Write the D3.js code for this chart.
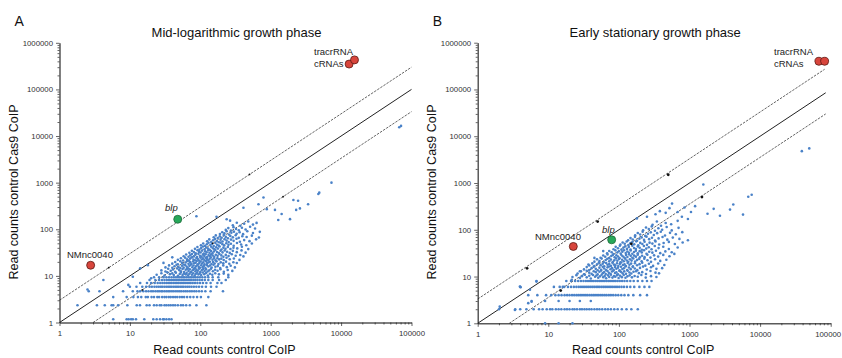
<!DOCTYPE html>
<html>
<head>
<meta charset="utf-8">
<script src="https://cdn.jsdelivr.net/npm/d3@7"></script>
<style>
  body { margin: 0; background: #fff; }
  svg { font-family: "Liberation Sans", Arial, sans-serif; }
</style>
</head>
<body>
<div id="chart"></div>
<script>
// ---- data ----
const xTicks = [1, 10, 100, 1000, 10000, 100000];
const yTicks = [1, 10, 100, 1000, 10000, 100000, 1000000];
const titles = ["Mid-logarithmic growth phase", "Early stationary growth phase"];
const letters = ["A", "B"];

// panel A, low counts sit on discrete levels: [y, [x...]]
const rowsA = [
  [1.17, [5.8, 9, 9.6, 10.4, 11, 12.2, 16, 21.5, 24, 26.8, 29.5, 30.5, 33, 36, 39]],
  [2.34, [1.8, 3.4, 4.4, 5.5, 5.8, 6.8, 9.2, 12.5, 13.9, 17.3, 19, 22, 24, 26.5, 28, 31, 33, 35.5, 38, 41, 44, 48, 53, 57, 63, 71, 88, 122]],
  [3.51, [5.8, 9, 11.2, 13, 14.5, 16.8, 18, 20.3, 22, 24.5, 26, 28.7, 31, 33, 35.7, 38, 41, 44, 47, 51, 55, 59, 65, 72, 80, 90, 102, 130]],
  [4.68, [2.6, 3.7, 8, 11, 12.8, 14, 15.5, 17, 18.4, 20, 21.3, 23, 24.6, 26, 27.8, 29, 31, 33, 35, 37, 39.5, 42, 45, 48, 51, 54, 58, 62, 66, 71, 76, 82, 88, 96, 105, 118, 140, 210]],
  [5.85, [10, 12.4, 15, 17, 19, 20.5, 22.3, 24, 25.7, 27.5, 29, 31, 33, 35, 37, 39, 41.5, 44, 46.5, 49, 52, 55, 58, 62, 66, 70, 75, 81, 88, 96, 106, 120, 142, 170]],
  [7.02, [14, 17.5, 20, 22.5, 24.8, 27, 29, 31, 33, 35, 37, 39, 41.5, 44, 46.5, 49, 52, 55, 58, 61, 65, 69, 73, 78, 84, 91, 99, 109, 122, 140, 175, 200]],
  [8.19, [4.2, 19, 23, 26, 28.5, 31, 33.5, 36, 38.5, 41, 43.5, 46, 48.5, 51, 54, 57, 60, 63, 67, 71, 75, 80, 85, 91, 98, 106, 116, 130, 150, 185, 230]],
  [9.36, [22, 26, 30, 33, 36, 39, 42, 45, 48, 51, 54, 57, 60, 64, 68, 72, 76, 81, 86, 92, 99, 107, 117, 130, 150, 180, 250]]
];

// panel A, main cloud above 10 reads: [x, y]
const cloudA = [
  [24,10.6],[28,11.4],[31,10.2],[34,11.9],[37,10.9],[40,11.3],[42,10.4],[45,11.7],[48,10.1],[51,11.0],[53,11.8],[56,10.5],[59,11.2],[62,10.8],[64,11.6],[67,10.3],[70,11.1],[73,11.9],[76,10.6],[79,11.4],[83,10.2],[86,11.0],[90,11.7],[94,10.7],[98,11.3],[103,10.4],[108,11.8],[114,10.9],[121,11.5],[128,10.2],[137,11.1],[148,10.6],[163,11.4],[184,10.8],[215,11.2],[250,10.5],
  [28,13.1],[32,12.4],[35,14.2],[38,12.9],[41,13.7],[44,12.2],[47,14.4],[50,13.3],[53,12.6],[56,14.0],[59,12.1],[62,13.5],[65,14.3],[68,12.8],[71,13.9],[74,12.3],[78,13.2],[81,14.1],[85,12.5],[88,13.6],[92,12.9],[96,14.3],[100,12.2],[105,13.4],[110,14.0],[115,12.7],[121,13.8],[127,12.4],[134,13.1],[142,14.2],[151,12.6],[162,13.5],[176,12.9],[193,13.9],[216,12.3],[245,13.4],[285,12.8],
  [32,15.2],[36,16.8],[40,14.9],[43,16.1],[46,17.3],[49,15.5],[52,14.7],[55,16.5],[58,15.0],[61,17.1],[64,15.8],[67,14.6],[70,16.3],[73,17.4],[77,15.3],[80,16.7],[84,14.8],[87,16.0],[91,17.2],[95,15.6],[99,14.9],[103,16.9],[108,15.4],[113,16.4],[118,14.7],[124,17.0],[130,15.9],[137,16.6],[145,15.1],[154,17.3],[164,15.7],[177,16.2],[192,14.8],[212,16.8],[238,15.4],[270,16.5],[310,15.2],
  [40,18.3],[44,19.9],[48,17.8],[52,20.6],[55,18.9],[58,17.6],[62,19.4],[65,20.8],[68,18.1],[72,19.7],[75,17.9],[79,20.3],[82,18.6],[86,19.2],[89,20.9],[93,17.7],[97,19.0],[101,20.4],[106,18.4],[110,19.6],[115,17.8],[120,20.7],[125,18.8],[131,19.3],[137,20.1],[144,17.9],[152,19.8],[160,18.5],[170,20.5],[181,18.0],[195,19.5],[212,18.7],[232,20.2],[258,18.2],[295,19.6],[330,18.9],
  [48,22.1],[53,23.9],[57,21.4],[61,24.6],[65,22.7],[69,21.2],[72,23.5],[76,24.9],[80,22.3],[84,21.6],[88,24.2],[92,23.0],[96,21.3],[100,24.7],[105,22.5],[109,23.7],[114,21.8],[119,24.4],[124,22.9],[130,21.5],[136,23.3],[142,24.8],[149,22.2],[157,23.8],[165,21.7],[175,24.0],[186,22.6],[199,23.4],[215,21.9],[236,24.5],[262,22.8],[300,23.6],[360,22.0],
  [58,26.4],[63,28.8],[68,25.7],[72,27.6],[76,29.5],[81,26.2],[85,28.3],[90,25.3],[94,29.7],[99,27.1],[104,25.9],[109,28.6],[114,26.8],[119,29.2],[125,25.5],[131,27.9],[137,26.5],[143,29.0],[150,27.3],[158,25.8],[166,28.5],[176,26.9],[187,29.4],[199,27.5],[213,25.6],[230,28.2],[252,26.6],[280,29.1],[318,27.0],[370,28.0],[410,26.2],
  [70,31.2],[76,34.5],[81,32.4],[86,30.5],[91,35.6],[96,33.1],[101,31.7],[106,34.9],[112,30.3],[117,33.7],[123,32.0],[129,35.3],[135,31.4],[142,34.2],[149,30.7],[156,33.4],[164,35.8],[173,32.6],[183,30.9],[194,34.6],[207,31.9],[222,35.0],[240,33.0],[262,31.1],[290,34.4],[330,32.3],[385,35.2],[440,31.5],
  [84,38.0],[91,41.5],[97,36.6],[103,39.7],[109,42.6],[115,37.4],[122,40.6],[129,38.8],[136,36.4],[143,42.1],[151,39.2],[159,37.1],[168,41.0],[178,38.5],[188,42.8],[200,36.9],[213,40.3],[228,38.2],[246,41.8],[268,37.7],[296,40.0],[335,38.9],[390,42.2],[480,37.5],
  [102,45.2],[110,49.5],[117,44.0],[124,47.6],[131,51.3],[139,45.8],[147,49.0],[155,43.6],[164,50.7],[173,46.7],[183,44.5],[194,51.6],[206,48.0],[219,45.1],[234,50.0],[251,46.3],[272,48.8],[298,44.3],[332,50.9],[380,47.2],[450,45.5],[540,49.4],
  [125,55.0],[134,60.6],[143,53.5],[152,58.3],[162,62.2],[172,56.0],[183,52.8],[194,59.5],[207,54.7],[221,61.4],[236,57.2],[253,53.3],[273,60.0],[297,56.4],[327,62.6],[365,54.0],[420,58.6],[500,55.6],[620,60.8],
  [155,67.4],[166,73.8],[177,64.6],[189,70.5],[201,66.0],[215,75.0],[230,68.6],[247,64.0],[267,72.0],[290,67.0],[318,74.4],[352,65.5],[395,70.8],[455,68.0],[540,73.0],[680,66.5],
  [190,79.0],[205,86.6],[220,81.5],[237,90.6],[255,77.5],[276,84.0],[300,89.0],[328,80.0],[362,86.0],[405,78.5],[465,91.0],[560,83.0],[700,88.0],
  [230,97],[250,106],[272,94],[296,111],[322,101],[352,95],[390,108],[440,99],[510,113],[600,104],
  [290,122],[330,138],[370,119],[420,131],[480,147],[560,126]
];

// panel A, scattered points off the main cloud
const outA = [
  [11, 9.6], [14, 14.5], [20, 8.9], [9.5, 6.4], [18, 17], [30, 19], [40, 25], [2.5, 5.1],
  [88, 190], [170, 186], [237, 164], [265, 153], [410, 290], [630, 137], [670, 344], [790, 480], [880, 270], [1150, 260],
  [1280, 158], [1430, 213], [1880, 165], [2100, 425], [2300, 260], [2450, 410], [2600, 280], [3400, 344], [4750, 570],
  [4900, 610], [7300, 1000], [67000, 15400], [71000, 16500]
];

// panel B, low counts sit on discrete levels: [y, [x...]]
const rowsB = [
  [1, [9, 14, 22]],
  [2, [2, 3.4, 4, 4.9, 6.2, 7.4, 8.3, 9.5, 10.6, 11.4, 12.8, 14, 15.3, 17, 18.4, 20, 22, 23.5, 25.5, 28, 30, 32.5, 35, 38, 41, 45, 49, 53, 58, 64, 70, 77, 86, 96, 110, 128, 150, 185]],
  [3, [5.8, 9, 14, 20, 28, 40]],
  [4, [5.2, 7, 9.3, 11, 12.6, 14, 15.4, 17, 18.5, 20, 21.7, 23.3, 25, 26.6, 28.3, 30, 32, 34, 36, 38.5, 41, 43.5, 46, 49, 52, 55.5, 59, 63, 67, 72, 77, 83, 90, 98, 108, 120, 136, 160, 200, 250]],
  [6, [4, 12, 14.5, 16.8, 19, 21, 23, 25, 27, 29, 31, 33, 35.2, 37.5, 40, 42.5, 45, 47.8, 50.5, 53.5, 57, 60.5, 64, 68, 72.5, 77, 82, 88, 94, 101, 109, 118, 130, 145, 165, 195, 230, 270]],
  [8, [6.8, 18, 21, 24, 26.5, 29, 31.5, 34, 36.5, 39, 41.5, 44, 47, 50, 53, 56, 59.5, 63, 67, 71, 75, 80, 85, 90, 96, 103, 111, 120, 131, 145, 162, 185, 215, 250, 290]]
];

// panel B, main cloud above 9 reads: [x, y]
const cloudB = [
  [22,9.8],[25,10.7],[28,9.3],[30,10.2],[33,10.9],[35,9.6],[38,10.4],[40,9.1],[43,10.8],[46,9.9],[48,10.5],[51,9.4],[54,10.1],[57,10.9],[60,9.7],[63,10.3],[66,9.2],[70,10.6],[73,9.8],[77,10.9],[81,9.5],[85,10.2],[89,9.9],[94,10.7],[99,9.3],[104,10.4],[110,9.7],[117,10.8],[124,9.4],[132,10.1],[142,10.6],[153,9.6],[167,10.3],[185,9.9],[208,10.8],[240,9.5],[285,10.2],[340,9.8],
  [26,11.6],[29,12.9],[32,11.2],[35,13.3],[38,12.1],[41,11.4],[44,13.0],[47,12.4],[50,11.1],[53,12.7],[56,13.4],[59,11.8],[62,12.5],[65,11.3],[69,13.1],[72,12.0],[76,11.5],[80,12.8],[84,13.4],[88,11.9],[92,12.3],[97,11.2],[102,13.2],[107,12.6],[113,11.7],[119,12.9],[126,11.4],[133,13.3],[141,12.2],[150,11.6],[161,12.7],[175,13.0],[192,11.8],[214,12.4],[242,11.3],[280,13.1],[330,12.1],[370,11.7],
  [32,14.2],[35,15.9],[38,13.8],[41,15.1],[44,16.3],[47,14.6],[50,13.6],[53,15.5],[56,14.0],[59,16.1],[62,14.8],[66,13.7],[69,15.7],[73,16.4],[76,14.3],[80,15.2],[84,13.9],[88,16.0],[92,14.7],[97,15.4],[102,13.6],[107,16.2],[112,14.5],[118,15.0],[124,16.4],[131,13.8],[139,15.6],[147,14.4],[157,16.0],[168,14.9],[182,13.7],[199,15.3],[220,16.3],[248,14.1],[285,15.8],[340,14.6],[410,15.1],
  [38,17.2],[42,19.1],[45,16.8],[49,18.3],[52,19.8],[55,17.5],[59,18.8],[62,16.6],[66,19.4],[69,17.9],[73,18.5],[77,16.9],[81,19.7],[85,18.0],[89,17.3],[94,19.2],[98,16.7],[103,18.6],[108,19.9],[114,17.6],[120,18.2],[126,16.8],[133,19.5],[141,17.8],[149,18.9],[158,16.6],[169,19.3],[181,17.4],[196,18.4],[214,19.8],[237,17.1],[266,18.7],[305,16.9],[360,19.0],[440,17.7],
  [45,20.8],[49,23.3],[53,21.5],[57,24.2],[61,20.3],[65,22.6],[69,24.0],[73,21.1],[77,23.0],[82,20.5],[86,22.2],[91,24.4],[95,21.7],[100,23.6],[105,20.2],[111,22.9],[117,21.3],[123,24.1],[129,22.0],[136,20.7],[143,23.4],[151,21.9],[160,24.3],[170,20.9],[181,22.7],[194,23.8],[210,21.2],[229,24.0],[254,22.3],[285,20.6],[325,23.5],[385,21.6],[470,22.8],
  [55,25.3],[60,28.1],[64,26.4],[69,29.6],[73,24.9],[78,27.4],[82,29.0],[87,25.8],[92,28.5],[97,26.9],[102,24.7],[108,29.3],[113,27.1],[119,25.5],[126,28.8],[132,26.2],[139,29.8],[147,27.7],[155,25.1],[164,28.0],[174,26.6],[185,29.4],[198,25.9],[213,27.9],[231,26.0],[253,29.2],[280,25.4],[315,28.4],[360,26.7],[425,29.0],[520,27.2],
  [68,31.5],[73,35.2],[79,33.0],[84,30.4],[89,36.3],[95,32.6],[100,34.7],[106,30.9],[112,33.8],[118,36.6],[125,31.8],[132,34.3],[139,32.1],[147,36.0],[155,30.6],[164,33.4],[174,35.5],[185,31.3],[197,34.9],[211,32.8],[227,36.4],[246,30.8],[269,34.0],[298,32.4],[335,35.7],[385,31.6],[455,34.5],[560,33.1],[610,30.5],
  [84,38.4],[90,43.1],[97,40.2],[103,45.3],[109,37.6],[116,41.6],[123,44.2],[130,39.0],[138,42.7],[146,37.9],[155,45.6],[164,40.8],[174,38.7],[185,43.8],[197,41.2],[211,37.4],[226,44.9],[244,39.6],[265,42.3],[290,38.2],[322,45.0],[365,40.5],[425,43.4],[510,38.9],[680,41.8],
  [105,48.0],[113,53.5],[121,50.2],[129,56.1],[137,47.3],[146,51.7],[155,54.8],[165,49.1],[176,56.6],[188,46.8],[201,52.4],[215,49.8],[231,55.3],[250,47.6],[272,53.0],[298,50.6],[330,56.2],[372,48.5],[430,52.0],[510,55.0],[620,49.5],[800,53.6],
  [135,59.5],[146,66.4],[157,62.0],[169,70.5],[181,58.3],[195,64.2],[210,68.7],[227,60.7],[246,71.2],[268,63.0],[294,67.3],[325,58.8],[365,65.4],[415,70.0],[485,61.5],[580,68.0],[720,63.8],[950,59.8],
  [170,76.0],[185,85.3],[200,79.5],[217,90.4],[236,74.0],[258,82.0],[283,88.0],[312,77.3],[348,84.6],[392,91.0],[450,75.5],[530,86.0],[640,80.0],[790,89.0],
  [220,98],[242,112],[265,104],[292,118],[324,95],[362,108],[410,100],[475,115],[560,97],[700,110],
  [300,128],[345,150],[395,122],[460,140],[550,131],[680,155]
];

// panel B, scattered points off the main cloud
const outB = [
  [37, 18], [21.5, 8.5], [28, 13], [45, 25], [60, 35], [16, 6], [3.96, 6.1], [6.8, 7.8], [5.5, 5.2], [2.05, 2.27],
  [3.37, 1.93], [4.06, 5.9], [5.2, 2.7], [5.8, 2.9],
  [180, 175], [250, 190], [330, 215], [380, 250], [460, 230], [520, 290], [566, 363], [680, 240], [780, 190], [850, 300],
  [950, 170], [1050, 240], [1200, 320], [1570, 930], [1800, 220], [2200, 280], [2700, 200], [3750, 270], [4170, 347],
  [5730, 211], [6800, 510], [7600, 560], [39000, 4800], [49700, 5500]
];

// small black marks sitting on the 3-fold lines
const marks = [[5, 15], [50, 150], [500, 1500], [15, 5], [150, 50], [1500, 500]];

// reference lines: [x0, y0, x1, y1, dashed]
const linesA = [[1, 1, 100000, 100000, false], [1, 3, 100000, 300000, true], [3, 1, 100000, 33333, true]];
const linesB = [[1, 1, 85000, 85000, false], [1, 3.3, 82000, 270000, true], [2.8, 1, 85000, 30000, true]];

// highlighted RNAs: [x, y, colour]
const specialA = [[13000, 350000, "red"], [15500, 430000, "red"], [2.77, 16.9, "red"], [47.8, 164, "green"]];
const specialB = [[68000, 400000, "red"], [82000, 400000, "red"], [22.6, 44, "red"], [79, 61, "green"]];

// ---- drawing ----
const W = 842, H = 358;
const svg = d3.select("#chart").append("svg").attr("width", W).attr("height", H);

const panels = [
  { x0: 59.5, x1: 411.5, y0: 322.5, y1: 42.8, rows: rowsA, cloud: cloudA.concat(outA), lines: linesA, special: specialA,
    labels: [["tracrRNA", 314, 55, false], ["cRNAs", 314, 67, false], ["NMnc0040", 67, 258, false], ["blp", 165, 211, true]] },
  { x0: 477.7, x1: 830.7, y0: 323.3, y1: 42.7, rows: rowsB, cloud: cloudB.concat(outB), lines: linesB, special: specialB,
    labels: [["tracrRNA", 774, 55, false], ["cRNAs", 774, 67, false], ["NMnc0040", 535, 240, false], ["blp", 602, 233, true]] }
];

const minorsX = [], minorsY = [];
for (let e = 0; e < 6; e++) for (let k = 2; k < 10; k++) {
  const v = k * Math.pow(10, e);
  minorsY.push(v);
  if (v < 100000) minorsX.push(v);
}

panels.forEach((p, i) => {
  const x = d3.scaleLog().domain([1, 100000]).range([p.x0, p.x1]);
  const y = d3.scaleLog().domain([1, 1000000]).range([p.y0, p.y1]);
  const g = svg.append("g");

  // axes: minor ticks then majors
  const xMin = g.append("g").attr("transform", `translate(0,${p.y0})`)
    .call(d3.axisBottom(x).tickValues(minorsX).tickSize(2).tickSizeOuter(0).tickFormat(""));
  const xMaj = g.append("g").attr("transform", `translate(0,${p.y0})`)
    .call(d3.axisBottom(x).tickValues(xTicks).tickSize(3.5).tickSizeOuter(0).tickFormat(d3.format("d")));
  const yMin = g.append("g").attr("transform", `translate(${p.x0},0)`)
    .call(d3.axisLeft(y).tickValues(minorsY).tickSize(2).tickSizeOuter(0).tickFormat(""));
  const yMaj = g.append("g").attr("transform", `translate(${p.x0},0)`)
    .call(d3.axisLeft(y).tickValues(yTicks).tickSize(3.5).tickSizeOuter(0).tickFormat(d3.format("d")));
  [xMin, xMaj, yMin, yMaj].forEach(a => {
    a.selectAll("path, line").attr("stroke", "#222").attr("stroke-width", 0.7);
    a.selectAll("text").attr("font-size", 7.8).attr("fill", "#333")
      .attr("font-family", "Liberation Sans, Arial, sans-serif");
  });
  xMaj.selectAll("text").attr("dy", "0.9em")
    .attr("dx", d => (i === 1 && d === 100000) ? -3 : 0);

  // reference lines
  g.selectAll(".ref").data(p.lines).join("line")
    .attr("x1", d => x(d[0])).attr("y1", d => y(d[1]))
    .attr("x2", d => x(d[2])).attr("y2", d => y(d[3]))
    .attr("stroke", "#222")
    .attr("stroke-width", d => d[4] ? 0.7 : 1)
    .attr("stroke-dasharray", d => d[4] ? "2.5,1.2" : null);

  // blue points
  const pts = [];
  p.rows.forEach(([yy, xs]) => xs.forEach(xx => pts.push([xx, yy])));
  p.cloud.forEach(d => pts.push(d));
  g.selectAll(".pt").data(pts).join("circle")
    .attr("cx", d => x(d[0])).attr("cy", d => y(d[1]))
    .attr("r", 1.3)
    .attr("fill", "#4a82c8");

  // black marks on the lines
  g.selectAll(".mk").data(marks).join("circle")
    .attr("cx", d => x(d[0])).attr("cy", d => y(d[1]))
    .attr("r", i === 0 ? 0.9 : 1.4).attr("fill", "#111");

  // highlighted RNAs
  g.selectAll(".sp").data(p.special).join("circle")
    .attr("cx", d => x(d[0])).attr("cy", d => y(d[1]))
    .attr("r", 4)
    .attr("fill", d => d[2] === "red" ? "#d8453c" : "#27a85a")
    .attr("stroke", d => d[2] === "red" ? "#5a1a14" : "#1f6a3a")
    .attr("stroke-width", 0.8);

  g.selectAll(".lb").data(p.labels).join("text")
    .attr("x", d => d[1]).attr("y", d => d[2])
    .attr("font-size", 9.5)
    .attr("font-style", d => d[3] ? "italic" : "normal")
    .attr("fill", "#222")
    .text(d => d[0]);

  // titles and axis names
  g.append("text").attr("x", (p.x0 + p.x1) / 2 + 1).attr("y", 37)
    .attr("text-anchor", "middle").attr("font-size", 13).attr("fill", "#111").text(titles[i]);
  g.append("text").attr("x", p.x0 - 45).attr("y", 26)
    .attr("font-size", 14).attr("fill", "#111").text(letters[i]);
  g.append("text").attr("x", (p.x0 + p.x1) / 2 - 11).attr("y", 354)
    .attr("text-anchor", "middle").attr("font-size", 12.5).attr("fill", "#111").text("Read counts control CoIP");
  g.append("text").attr("transform", `translate(${p.x0 - 42},${192}) rotate(-90)`)
    .attr("text-anchor", "middle").attr("font-size", 12.5).attr("fill", "#111").text("Read counts control Cas9 CoIP");
});
</script>
</body>
</html>
